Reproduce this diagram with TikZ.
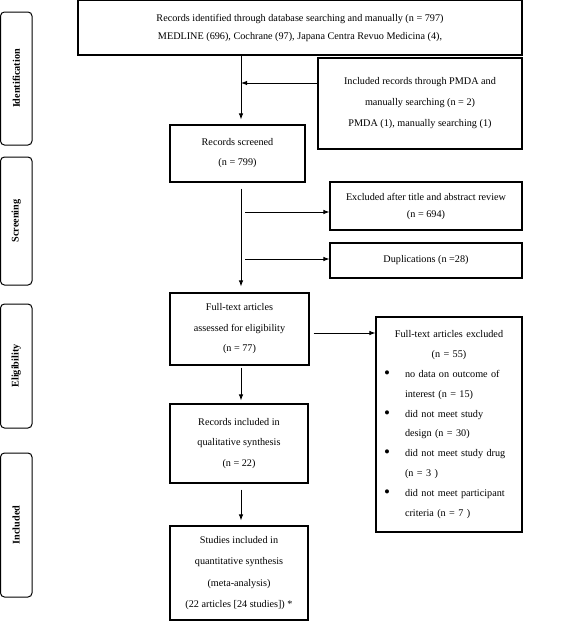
\documentclass[tikz,border=0pt]{standalone}
\usepackage{fontspec}
\setmainfont{Liberation Serif}
\setlength{\parindent}{0pt}
\usetikzlibrary{arrows.meta}
\tikzset{
	block/.style={
		rectangle,
		draw=black,
		line width=1.1pt,
		inner sep=2pt,
		align=center,
		font=\fontsize{10.2}{20}\selectfont
	},
	phase/.style={
		rectangle,
		rounded corners=4pt,
		draw=black,
		line width=1pt,
		rotate=90,
		minimum height=31.5pt,
		font=\bfseries\fontsize{10.2}{11}\selectfont
	},
	arrow/.style={
		draw=black,
		line width=0.9pt,
		-{Latex[length=6pt,width=4.5pt]}
	},
}
\newcommand{\exclitem}[1]{\hspace*{6pt}\makebox[21pt][l]{\raisebox{-1.2pt}{\fontsize{17}{17}\selectfont\textbullet}}#1}

\begin{document}
\begin{tikzpicture}[x=1pt,y=-1pt]
	\useasboundingbox (0,0) rectangle (568,621);
	\node [phase, minimum width=133pt] (pident) at (16.25,78.5) {Identification};
	\node [phase, minimum width=128pt] (pscreen) at (16.25,221) {Screening};
	\node [phase, minimum width=124pt] (pelig) at (16.25,366) {Eligibility};
	\node [phase, minimum width=144pt] (pincl) at (16.25,525) {Included};

	\node [block, minimum width=444pt, minimum height=54.4pt, font=\fontsize{10.2}{18}\selectfont] (ident) at (300,27.8) {Records identified through database searching and manually (n = 797)\\MEDLINE (696), Cochrane (97), Japana Centra Revuo Medicina (4),};
	\node [block, minimum width=204pt, minimum height=91pt, font=\fontsize{10.2}{21}\selectfont] (pmda) at (420,103.5) {Included records through PMDA and\\manually searching (n = 2)\\PMDA (1), manually searching (1)};
	\node [block, minimum width=135pt, minimum height=57pt] (screened) at (237.5,153.5) {Records screened\\(n = 799)};
	\node [block, minimum width=192pt, minimum height=48pt, font=\fontsize{10.2}{17}\selectfont] (tiab) at (426,206) {Excluded after title and abstract review\\(n = 694)};
	\node [block, minimum width=192pt, minimum height=35pt] (dup) at (426,260.5) {Duplications (n =28)};
	\node [block, minimum width=139pt, minimum height=72pt, font=\fontsize{10.2}{20.5}\selectfont] (fulltext) at (239.5,329) {Full-text articles\\assessed for eligibility\\(n = 77)};
	\node [block, minimum width=138pt, minimum height=79pt, font=\fontsize{10.2}{20.5}\selectfont] (qual) at (239,443.5) {Records included in\\qualitative synthesis\\(n = 22)};
	\node [block, minimum width=138pt, minimum height=94pt, font=\fontsize{10.2}{21.5}\selectfont] (quant) at (239,573) {Studies included in\\quantitative synthesis\\(meta-analysis)\\(22 articles [24 studies]) *};
	\node [block, minimum width=146pt, minimum height=215pt, text width=142pt, align=left, font=\fontsize{10.2}{19.8}\selectfont] (ftexcl) at (449,424.5) {%
		{\centering Full-text articles excluded\\(n = 55)\par}
		\raggedright
		\exclitem{\makebox[98pt][s]{no data on outcome of}}\\
		\hspace*{27pt}interest (n = 15)\\
		\exclitem{did not meet study}\\
		\hspace*{27pt}design (n = 30)\\
		\exclitem{did not meet study drug}\\
		\hspace*{27pt}(n = 3 )\\
		\exclitem{did not meet participant}\\
		\hspace*{27pt}criteria (n = 7 )\par};

	\coordinate (spine) at (241,0);
	\coordinate (pmdaout) at ([yshift=20.5pt]pmda.west);
	\coordinate (tiabin) at ([yshift=-6pt]tiab.west);
	\coordinate (dupin) at ([yshift=1.5pt]dup.west);
	\coordinate (ftout) at ([yshift=-4pt]fulltext.east);

	\draw[arrow, shorten >=5pt] (ident.south -| spine) -- (screened.north -| spine);
	\draw[arrow] (pmdaout) -- (pmdaout -| spine);
	\draw[arrow, shorten <=6pt, shorten >=6pt] (screened.south -| spine) -- (fulltext.north -| spine);
	\draw[arrow, shorten <=4pt] (tiabin -| spine) -- (tiabin);
	\draw[arrow, shorten <=4pt] (dupin -| spine) -- (dupin);
	\draw[arrow, shorten <=4pt] (ftout) -- (ftout -| ftexcl.west);
	\draw[arrow, shorten <=2pt, shorten >=3pt] (fulltext.south -| spine) -- (qual.north -| spine);
	\draw[arrow, shorten <=6pt, shorten >=5pt] (qual.south -| spine) -- (quant.north -| spine);
\end{tikzpicture}
\end{document}
